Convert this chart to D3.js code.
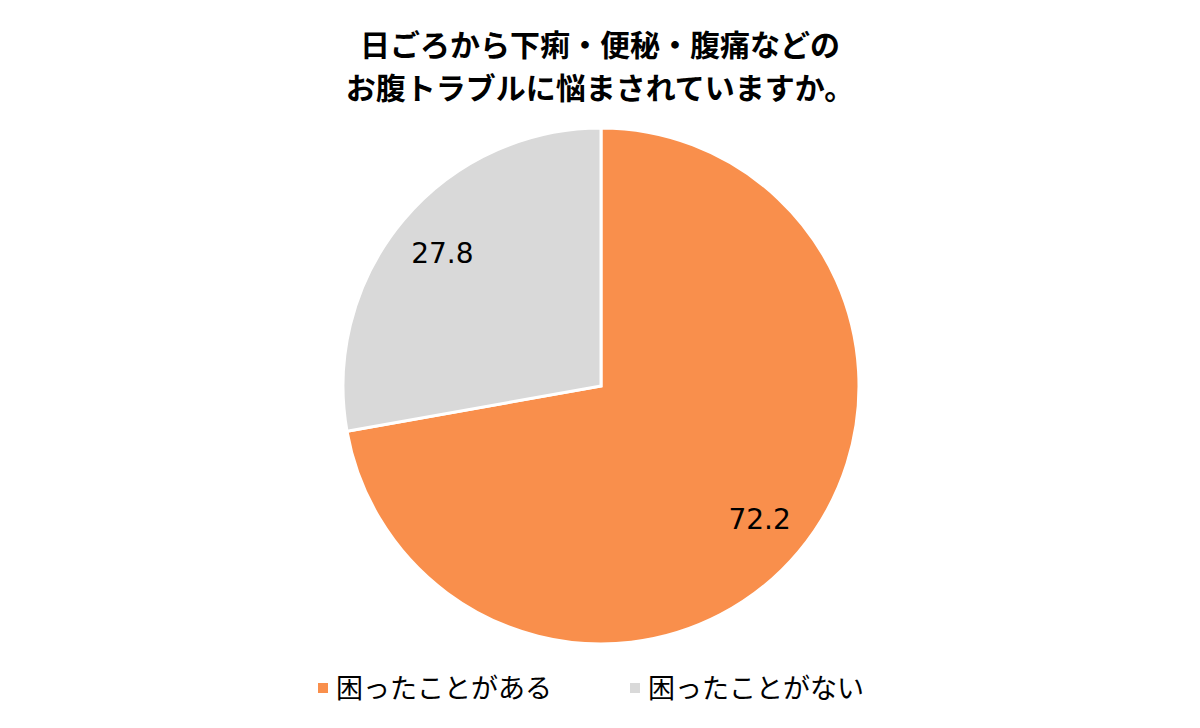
<!DOCTYPE html>
<html><head><meta charset="utf-8">
<script src="https://cdn.jsdelivr.net/npm/d3@7"></script>
<style>body{margin:0;background:#fff}</style></head>
<body><div id="chart"></div>
<script>
// Chart data
const categories = ["困ったことがある", "困ったことがない"];
const values = [72.2, 27.8];
const colors = ["#F98F4C", "#D9D9D9"];
const titleLines = ["日ごろから下痢・便秘・腹痛などの", "お腹トラブルに悩まされていますか。"];

const width = 1200, height = 728;
const cx = 601, cy = 386, r = 258;

const svg = d3.select("#chart").append("svg")
    .attr("width", width).attr("height", height);

// Title
svg.append("g").selectAll("text")
    .data(titleLines)
    .join("text")
    .attr("x", width / 2)
    .attr("y", (d, i) => 56 + i * 43)
    .attr("text-anchor", "middle")
    .attr("font-family", "Noto Sans CJK JP")
    .attr("font-weight", "bold")
    .attr("font-size", 30)
    .attr("fill", "#000")
    .text(d => d);

// Pie
const pie = d3.pie().sort(null).value(d => d);
const arc = d3.arc().innerRadius(0).outerRadius(r);
const labelArc = d3.arc().innerRadius(207).outerRadius(207);
const g = svg.append("g").attr("transform", `translate(${cx},${cy})`);
const arcs = pie(values);

g.selectAll("path")
    .data(arcs)
    .join("path")
    .attr("d", arc)
    .attr("fill", (d, i) => colors[i])
    .attr("stroke", "#fff")
    .attr("stroke-width", 3);

g.selectAll("text")
    .data(arcs)
    .join("text")
    .attr("transform", d => `translate(${labelArc.centroid(d)})`)
    .attr("text-anchor", "middle")
    .attr("dy", "0.35em")
    .attr("font-family", "DejaVu Sans")
    .attr("font-size", 28)
    .attr("fill", "#000")
    .text(d => d.data.toFixed(1));

// Legend
const legendX = [318, 630];
const legend = svg.append("g").selectAll("g")
    .data(categories)
    .join("g")
    .attr("transform", (d, i) => `translate(${legendX[i]},688)`);
legend.append("rect")
    .attr("x", 0).attr("y", -5).attr("width", 10).attr("height", 10)
    .attr("fill", (d, i) => colors[i]);
legend.append("text")
    .attr("x", 18).attr("dy", "0.36em")
    .attr("font-family", "Noto Sans CJK JP")
    .attr("font-size", 27)
    .attr("fill", "#000")
    .text(d => d);
</script></body></html>
